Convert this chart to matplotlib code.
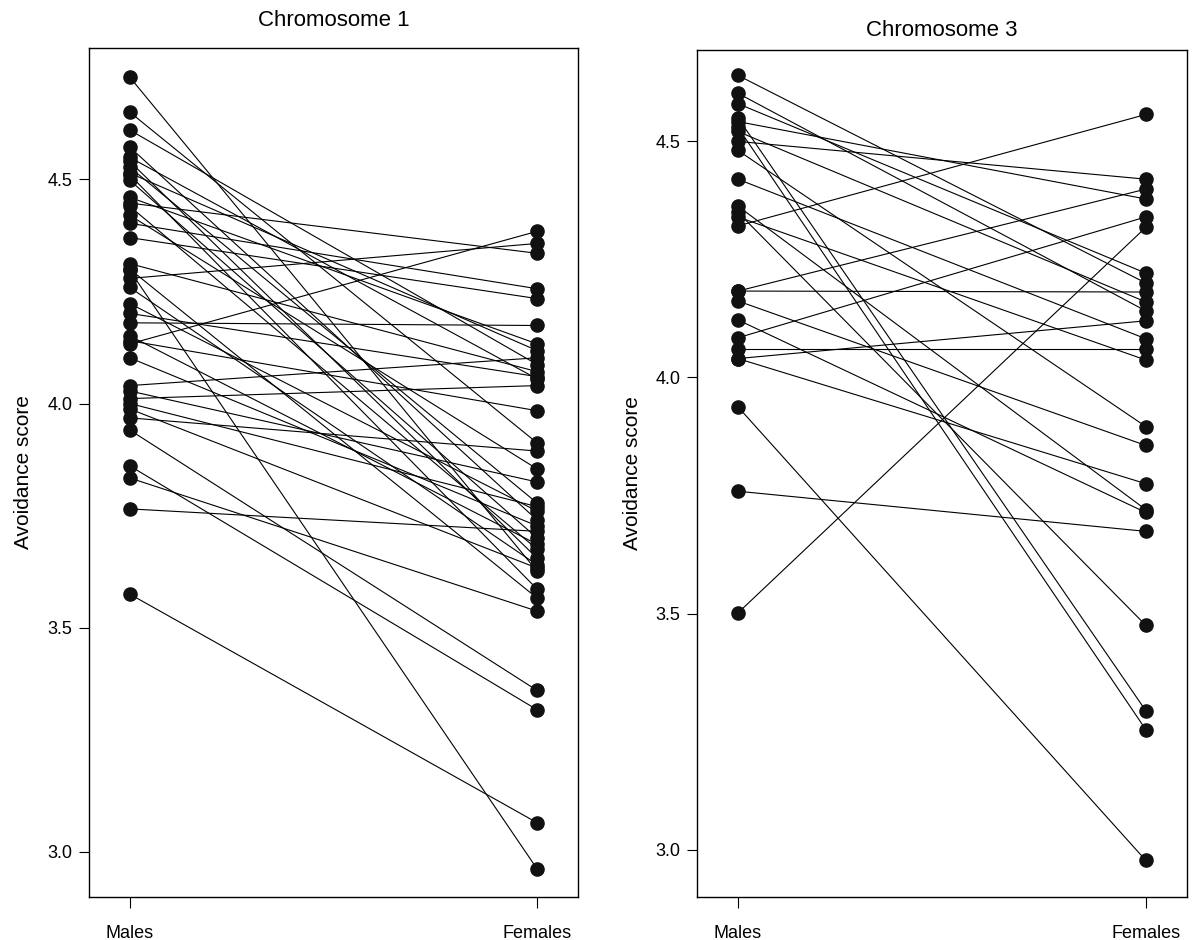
import matplotlib
matplotlib.use("Agg")
import matplotlib.pyplot as plt

plt.rcParams["font.family"] = ["Liberation Sans", "DejaVu Sans"]

groups = ["Males", "Females"]

# Chromosome 1: one male and one female score per line
chr1_males = [4.728, 4.650, 4.610, 4.572, 4.549, 4.540, 4.527, 4.514, 4.510, 4.498,
              4.460, 4.447, 4.440, 4.420, 4.402, 4.370, 4.312, 4.300, 4.297, 4.279,
              4.259, 4.223, 4.201, 4.180, 4.151, 4.140, 4.133, 4.102, 4.040, 4.028,
              4.011, 4.000, 3.988, 3.968, 3.941, 3.861, 3.834, 3.765, 3.575]
chr1_females = [3.626, 3.912, 4.087, 3.740, 4.055, 3.655, 3.778, 4.118, 3.586, 3.700,
                4.133, 4.335, 3.675, 3.854, 4.256, 4.234, 4.071, 3.566, 2.962, 4.357,
                3.640, 3.760, 4.060, 4.174, 3.686, 3.984, 4.384, 3.727, 4.102, 3.825,
                4.040, 3.770, 3.633, 3.894, 3.360, 3.317, 3.537, 3.715, 3.065]

# Chromosome 3
chr3_males = [4.640, 4.602, 4.580, 4.550, 4.542, 4.530, 4.521, 4.500, 4.481, 4.420,
              4.363, 4.350, 4.340, 4.321, 4.183, 4.183, 4.162, 4.122, 4.084, 4.061,
              4.040, 4.040, 3.938, 3.759, 3.501]
chr3_females = [4.200, 4.141, 4.221, 3.294, 4.378, 3.254, 4.160, 4.420, 3.896, 4.082,
                3.720, 3.475, 4.037, 4.557, 4.399, 4.181, 3.856, 3.714, 4.340, 4.061,
                3.775, 4.120, 2.977, 3.674, 4.318]

yticks = [3.0, 3.5, 4.0, 4.5]

fig = plt.figure(figsize=(11.94, 9.4), dpi=100)
ax1 = fig.add_axes([0.0745, 0.046, 0.4095, 0.903])
ax2 = fig.add_axes([0.5838, 0.046, 0.4100, 0.901])


def draw_panel(ax, males, females, title, ylim, title_pad):
    for m, f in zip(males, females):
        ax.plot([1, 2], [m, f], color="black", linewidth=0.8, zorder=1)
    ax.scatter([1] * len(males), males, s=90, color="#111111", zorder=2)
    ax.scatter([2] * len(females), females, s=90, color="#111111", zorder=2)
    ax.set_xlim(0.9, 2.1)
    ax.set_ylim(*ylim)
    ax.set_xticks([1, 2])
    ax.set_xticklabels(groups, fontsize=13)
    ax.set_yticks(yticks)
    ax.set_yticklabels([f"{t:.1f}" for t in yticks], fontsize=13)
    ax.tick_params(axis="x", direction="out", length=8, pad=12)
    ax.tick_params(axis="y", direction="out", length=7, pad=5)
    ax.set_ylabel("Avoidance score", fontsize=15, labelpad=10)
    ax.set_title(title, fontsize=16, pad=title_pad)
    for sp in ax.spines.values():
        sp.set_linewidth(1.0)


draw_panel(ax1, chr1_males, chr1_females, "Chromosome 1", (2.90, 4.793), 16)
draw_panel(ax2, chr3_males, chr3_females, "Chromosome 3", (2.90, 4.694), 10)

plt.savefig("out.png", dpi=100)
plt.close()
